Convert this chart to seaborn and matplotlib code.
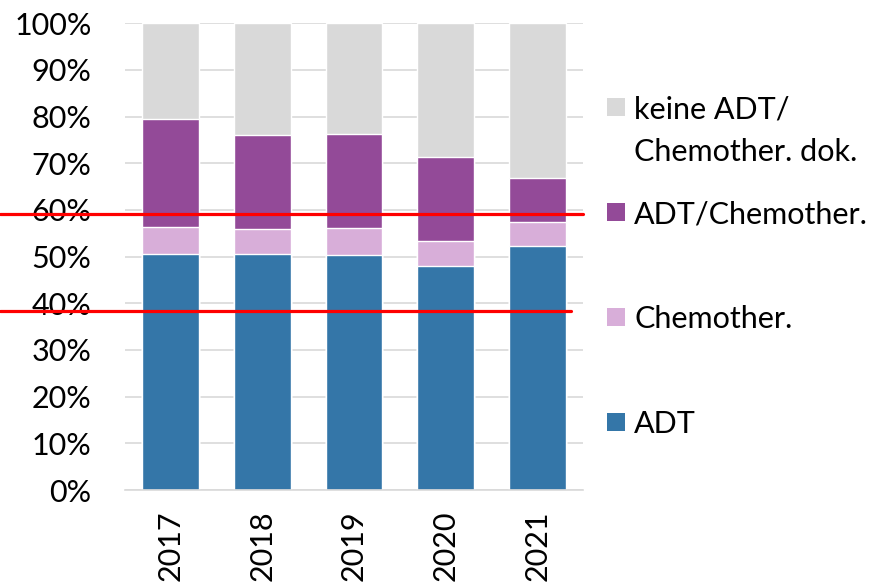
import pandas as pd
import matplotlib.pyplot as plt
import seaborn as sns
import numpy as np
from matplotlib.patches import Rectangle

# data (percent)
years = ["2017", "2018", "2019", "2020", "2021"]
adt = [50.5, 50.5, 50.3, 47.9, 52.3]
chemo = [5.9, 5.4, 5.8, 5.5, 5.1]
adt_chemo = [23.2, 20.1, 20.1, 18.0, 9.5]
keine = [20.4, 24.0, 23.8, 28.6, 33.1]
labels = ["keine ADT/\nChemother. dok.", "ADT/Chemother.", "Chemother.", "ADT"]
colors = ["#D9D9D9", "#934A98", "#D8AED9", "#3476A8"]
red_lines = [59.1, 38.4]

sns.set_style("white")
plt.rcParams["font.family"] = ["Lato", "DejaVu Sans"]
plt.rcParams["text.color"] = "black"
plt.rcParams["xtick.labelcolor"] = "black"
plt.rcParams["ytick.labelcolor"] = "black"
fs = 22

df = pd.DataFrame({"year": years, "ADT": adt, "Chemother.": chemo,
                   "ADT/Chemother.": adt_chemo, "keine": keine})
# cumulative tops, drawn from the top layer down
df["c_adt"] = df["ADT"]
df["c_chemo"] = df["c_adt"] + df["Chemother."]
df["c_adtchemo"] = df["c_chemo"] + df["ADT/Chemother."]
df["c_keine"] = df["c_adtchemo"] + df["keine"]

fig = plt.figure(figsize=(8.85, 5.83), dpi=100)
ax = fig.add_axes([125 / 885, 1 - 490 / 583, 458 / 885, (490 - 23.3) / 583])

for col, c in zip(["c_keine", "c_adtchemo", "c_chemo", "c_adt"], colors):
    sns.barplot(data=df, x="year", y=col, color=c, saturation=1, width=0.62,
                ax=ax, zorder=2)

ax.set_xlim(-0.5, 4.5)
ax.set_ylim(0, 100)
ax.set_yticks(np.arange(0, 101, 10))
ax.set_yticklabels([f"{v}%" for v in range(0, 101, 10)])
ax.yaxis.grid(True, color="#D9D9D9", linewidth=1.2, zorder=0)
ax.set_axisbelow(True)
ax.set_xlabel("")
ax.set_ylabel("")
for s in ["left", "right", "top"]:
    ax.spines[s].set_visible(False)
ax.spines["bottom"].set_color("#D9D9D9")
ax.spines["bottom"].set_linewidth(1.2)

ax.tick_params(axis="y", length=0, pad=24, labelsize=fs, labelcolor="black")
ax.tick_params(axis="x", which="major", length=0, pad=15, labelsize=fs,
               labelrotation=90, labelcolor="black")
ax.set_xticks(np.arange(-0.5, 5, 1), minor=True)
ax.tick_params(axis="x", which="minor", length=8, color="#D9D9D9", width=1.2)

# red marker lines across the chart
ax.axhline(red_lines[0], xmin=-125 / 458, xmax=1.0, color="#FF0000",
           linewidth=2.3, clip_on=False, zorder=5)
ax.axhline(red_lines[1], xmin=-125 / 458, xmax=(570.7 - 125) / 458,
           color="#FF0000", linewidth=2.3, clip_on=False, zorder=5)

# legend on the right
marker_y = [106.7, 211.7, 317, 421.7]
for lab, c, my in zip(labels, colors, marker_y):
    fig.patches.append(Rectangle((607 / 885, 1 - (my + 9) / 583), 18 / 885, 18 / 583,
                                 transform=fig.transFigure, facecolor=c,
                                 edgecolor="none"))
    first = lab.split("\n")[0]
    fig.text(634 / 885, 1 - my / 583, first, fontsize=fs, va="center_baseline",
             ha="left", color="black")
    if "\n" in lab:
        fig.text(634 / 885, 1 - (my + 43) / 583, lab.split("\n")[1], fontsize=fs,
                 va="center_baseline", ha="left", color="black")

fig.savefig("out.png", dpi=100)
